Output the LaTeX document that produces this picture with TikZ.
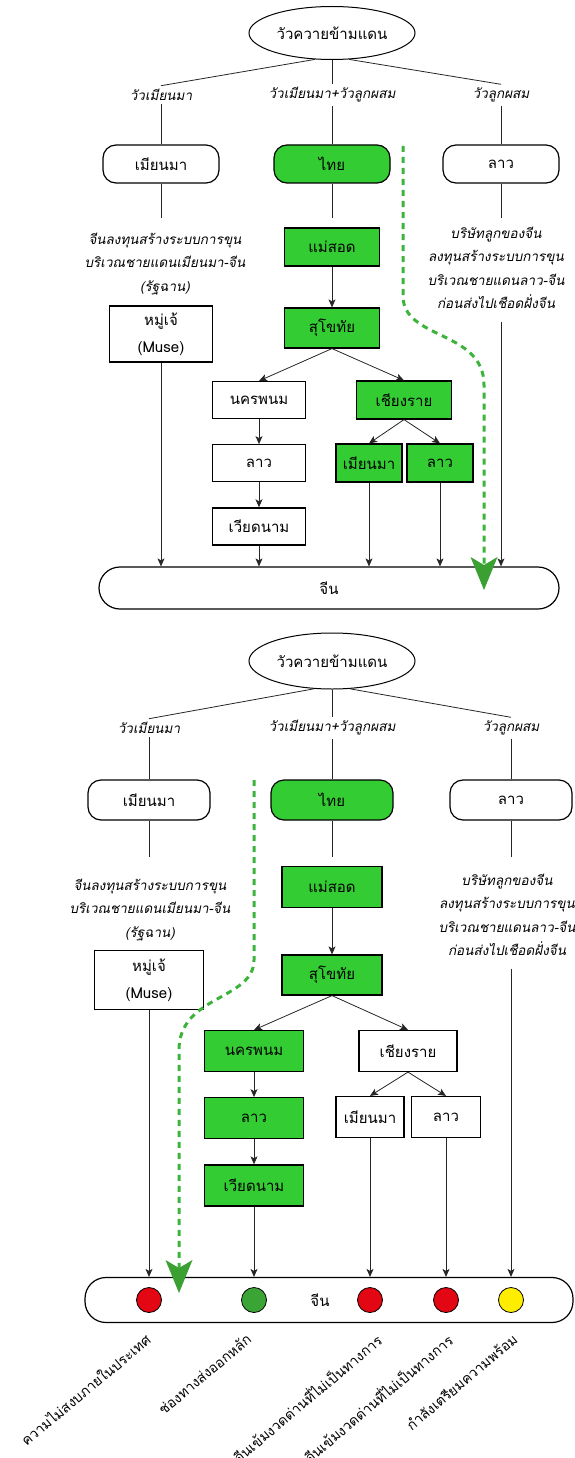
\documentclass[tikz,border=0pt]{standalone}
\usepackage{fontspec}
\setmainfont[Script=Thai]{Loma}
\newfontfamily\slantfont[Script=Thai,FakeSlant=0.2]{Loma}
\usepackage{xcolor}
\usetikzlibrary{arrows.meta, positioning, calc, shapes.geometric}
\definecolor{boxgreen}{RGB}{51,204,51}
\definecolor{trailgreen}{RGB}{60,180,60}
\definecolor{tipgreen}{RGB}{58,160,50}
\definecolor{lampred}{RGB}{227,6,19}
\definecolor{lampgreen}{RGB}{58,165,53}
\definecolor{lampyellow}{RGB}{255,237,0}

\begin{document}
\begin{tikzpicture}[x=1pt,y=-1pt,>={Stealth[length=8pt,width=7pt,inset=2pt]},
	line/.style={draw=black!85,line width=0.8pt},
	gap/.style={shorten >=9pt},
	cow/.style={ellipse,draw,line width=1pt,font=\fontsize{15}{17}\selectfont},
	kind/.style={font=\slantfont\fontsize{13.5}{15}\selectfont},
	note/.style={align=center,font=\slantfont\fontsize{13.5}{23.5}\selectfont},
	box/.style={draw,line width=1.2pt,fill=white,inner sep=1pt,font=\fontsize{15}{17}\selectfont},
	gbox/.style={box,fill=boxgreen},
	rbox/.style={box,rounded corners=13pt},
	band/.style={draw,line width=1.2pt,fill=white,rounded corners=21pt,font=\fontsize{15}{17}\selectfont},
	lamp/.style={circle,draw,line width=0.8pt,minimum size=25pt,inner sep=0pt},
	side/.style={rotate=40,anchor=east,inner sep=0pt,font=\fontsize{14}{16}\selectfont},
	trail/.style={draw=trailgreen,line width=3pt,dash pattern=on 6pt off 5pt,
		-{Stealth[length=33pt,width=27pt,inset=8pt,line width=0pt,fill=tipgreen,color=tipgreen]}}]

	\useasboundingbox (0,0) rectangle (574,1458);

	% first picture
	\begin{scope}[box/.append style={minimum width=95pt,minimum height=38pt}]
	\node[cow,minimum width=143pt,minimum height=53pt] (cowA) at (332,33) {วัวควายข้ามแดน};
	\node[kind] (kA1) at (161,95) {วัวเมียนมา};
	\node[kind] (kA2) at (332,95) {วัวเมียนมา+วัวลูกผสม};
	\node[kind] (kA3) at (501,95) {วัวลูกผสม};

	\node[rbox,minimum width=116pt] (mmA) at (161,164) {เมียนมา};
	\node[rbox,gbox,minimum width=116pt] (thA) at (332,164) {ไทย};
	\node[rbox,minimum width=116pt] (loA) at (501,164) {ลาว};

	\node[note] (nA1) at (165,264) {จีนลงทุนสร้างระบบการขุน\\บริเวณชายแดนเมียนมา-จีน\\(รัฐฉาน)};
	\node[note] (nA3) at (496,268) {บริษัทลูกของจีน\\ลงทุนสร้างระบบการขุน\\บริเวณชายแดนลาว-จีน\\ก่อนส่งไปเชือดฝั่งจีน};

	\node[gbox] (msA) at (332,247) {แม่สอด};
	\node[gbox,minimum height=40pt] (skA) at (332,328) {สุโขทัย};
	\node[box,minimum width=103pt,minimum height=56pt,align=center,font=\fontsize{15}{27}\selectfont] (muA) at (161,334) {หมู่เจ้\\(Muse)};

	\node[box,minimum width=93pt,minimum height=37pt] (npA) at (259,400) {นครพนม};
	\node[box,minimum width=93pt,minimum height=37pt,below=25pt of npA] (laA) {ลาว};
	\node[box,minimum width=93pt,minimum height=37pt,below=25pt of laA] (vnA) {เวียดนาม};
	\node[gbox] (crA) at (404,400) {เชียงราย};
	\node[gbox,minimum width=66pt] (cmA) at (369,463) {เมียนมา};
	\node[gbox,minimum width=66pt] (clA) at (440,463) {ลาว};

	\node[band,minimum width=460pt,minimum height=42pt] (cnA) at (329,588) {จีน};
	\end{scope}

	\path[every edge/.append style={line}]
	(cowA.237) edge (kA1.north)
	(cowA.south) edge (kA2.north)
	(cowA.303) edge (kA3.north)
	(kA1) edge (mmA)
	(kA2) edge (thA)
	(kA3) edge (loA)
	(mmA) edge[gap] (mmA |- msA.north)
	(thA) edge[gap] (msA)
	(loA) edge[gap] (loA |- msA.north);

	\path[->,every edge/.append style={line}]
	(msA) edge (skA)
	(skA.south) edge (npA.north)
	(skA.south) edge (crA.north)
	(npA) edge (laA)
	(laA) edge (vnA)
	(crA.south) edge (cmA.north)
	(crA.south) edge (clA.north)
	(muA.south) edge (muA.south |- cnA.north)
	(vnA) edge (vnA |- cnA.north)
	(cmA) edge (cmA |- cnA.north)
	(clA) edge (clA |- cnA.north)
	(nA3.south -| loA) edge[shorten <=9pt] (loA |- cnA.north);

	\coordinate (trA0) at (403,146);
	\coordinate (trA1) at (484,590);
	\draw[trail] (trA0) -- (403,296) .. controls (403,340) and (484,330) .. (484,385) -- (trA1);

	% second picture
	\begin{scope}[box/.append style={minimum width=100pt,minimum height=41pt}]
	\node[cow,minimum width=151pt,minimum height=56pt] (cowB) at (332,661) {วัวควายข้ามแดน};
	\node[kind] (kB1) at (149,728) {วัวเมียนมา};
	\node[kind] (kB2) at (332,728) {วัวเมียนมา+วัวลูกผสม};
	\node[kind] (kB3) at (511,728) {วัวลูกผสม};

	\node[rbox,minimum width=122pt,minimum height=40pt] (mmB) at (149,800) {เมียนมา};
	\node[rbox,gbox,minimum width=122pt,minimum height=40pt] (thB) at (332,800) {ไทย};
	\node[rbox,minimum width=122pt,minimum height=40pt] (loB) at (511,800) {ลาว};

	\node[note] (nB1) at (150,910) {จีนลงทุนสร้างระบบการขุน\\บริเวณชายแดนเมียนมา-จีน\\(รัฐฉาน)};
	\node[note] (nB3) at (507,915) {บริษัทลูกของจีน\\ลงทุนสร้างระบบการขุน\\บริเวณชายแดนลาว-จีน\\ก่อนส่งไปเชือดฝั่งจีน};

	\node[gbox] (msB) at (332,887) {แม่สอด};
	\node[gbox,minimum height=40pt] (skB) at (332,975) {สุโขทัย};
	\node[box,minimum width=109pt,minimum height=59pt,align=center,font=\fontsize{15}{27}\selectfont] (muB) at (149,980) {หมู่เจ้\\(Muse)};

	\node[gbox,minimum width=99pt] (npB) at (254,1051) {นครพนม};
	\node[gbox,minimum width=99pt,below=25pt of npB] (laB) {ลาว};
	\node[gbox,minimum width=99pt,below=25pt of laB] (vnB) {เวียดนาม};
	\node[box,minimum width=98pt] (crB) at (408,1051) {เชียงราย};
	\node[box,minimum width=68pt] (cmB) at (370,1117) {เมียนมา};
	\node[box,minimum width=69pt] (clB) at (446,1117) {ลาว};

	\node[band,minimum width=488pt,minimum height=45pt,label={[xshift=-9pt,font=\fontsize{15}{17}\selectfont]center:จีน}] (cnB) at (329,1300) {};
	\end{scope}

	\node[lamp,fill=lampred] (lpB1) at (muB |- cnB) {};
	\node[lamp,fill=lampgreen] (lpB2) at (vnB |- cnB) {};
	\node[lamp,fill=lampred] (lpB3) at (cmB |- cnB) {};
	\node[lamp,fill=lampred] (lpB4) at (clB |- cnB) {};
	\node[lamp,fill=lampyellow] (lpB5) at (loB |- cnB) {};

	\node[side] (sdB1) at ($(lpB1)+(-1,37)$) {ความไม่สงบภายในประเทศ};
	\node[side] (sdB2) at ($(lpB2)+(-5,37)$) {ช่องทางส่งออกหลัก};
	\node[side] (sdB3) at ($(lpB3)+(9,37)$) {จีนเข้มงวดด่านที่ไม่เป็นทางการ};
	\node[side] (sdB4) at ($(lpB4)+(4,37)$) {จีนเข้มงวดด่านที่ไม่เป็นทางการ};
	\node[side] (sdB5) at ($(lpB5)+(4,37)$) {กำลังเตรียมความพร้อม};

	\path[every edge/.append style={line}]
	(cowB.237) edge (kB1.north)
	(cowB.south) edge (kB2.north)
	(cowB.303) edge (kB3.north)
	(kB1) edge (mmB)
	(kB2) edge (thB)
	(kB3) edge (loB)
	(mmB) edge[gap] (mmB |- msB.north)
	(thB) edge[gap] (msB)
	(loB) edge[gap] (loB |- msB.north);

	\path[->,every edge/.append style={line}]
	(msB) edge (skB)
	(skB.south) edge (npB.north)
	(skB.south) edge (crB.north)
	(npB) edge (laB)
	(laB) edge (vnB)
	(crB.south) edge (cmB.north)
	(crB.south) edge (clB.north)
	(muB.south) edge (muB.south |- cnB.north)
	(vnB) edge (vnB |- cnB.north)
	(cmB) edge (cmB |- cnB.north)
	(clB) edge (clB |- cnB.north)
	(nB3.south -| loB) edge[shorten <=9pt] (loB |- cnB.north);

	\coordinate (trB0) at (254,780);
	\coordinate (trB1) at (179,1293);
	\draw[trail] (trB0) -- (254,960) .. controls (254,1000) and (179,995) .. (179,1050) -- (trB1);

\end{tikzpicture}
\end{document}
